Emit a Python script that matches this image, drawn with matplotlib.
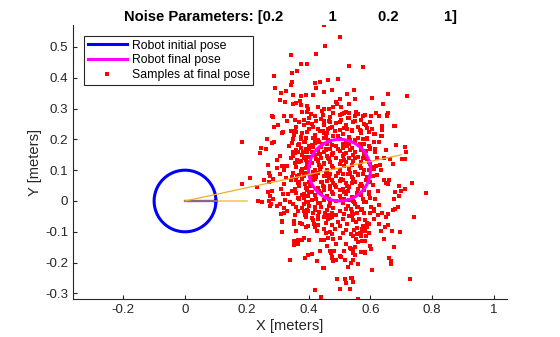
import numpy as np
import matplotlib
matplotlib.use('Agg')
import matplotlib.pyplot as plt
from matplotlib.lines import Line2D

plt.rcParams['font.family'] = ['Liberation Sans', 'DejaVu Sans']
plt.rcParams['axes.unicode_minus'] = False

# poses (x, y, radius)
init_pose = (0.0, 0.0)
final_pose = (0.5, 0.1)
robot_radius = 0.1
ray_end = (0.7, 0.15)
heading_len = 0.1
odom_len = 0.2

noise_params = [0.2, 1, 0.2, 1]

# samples, grouped by region
samples_top = [
    (0.45, 0.57), (0.454, 0.502), (0.425, 0.476), (0.344, 0.473), (0.376, 0.444),
    (0.396, 0.444), (0.363, 0.421), (0.347, 0.415), (0.289, 0.405), (0.464, 0.393),
    (0.347, 0.385), (0.344, 0.376), (0.422, 0.382), (0.438, 0.385), (0.425, 0.366),
    (0.292, 0.366), (0.328, 0.356), (0.312, 0.35), (0.451, 0.353), (0.477, 0.359),
    (0.35, 0.343), (0.376, 0.34), (0.393, 0.343), (0.415, 0.343), (0.308, 0.327),
    (0.325, 0.32), (0.373, 0.324), (0.36, 0.317), (0.35, 0.314), (0.376, 0.311),
    (0.396, 0.307), (0.431, 0.304), (0.399, 0.298), (0.451, 0.298), (0.467, 0.298),
    (0.48, 0.304), (0.38, 0.288), (0.396, 0.288), (0.409, 0.282), (0.444, 0.291),
    (0.283, 0.275), (0.321, 0.277), (0.344, 0.277), (0.422, 0.277), (0.448, 0.279),
    (0.48, 0.285),
    (0.5, 0.531), (0.532, 0.437), (0.577, 0.434), (0.496, 0.395), (0.548, 0.359),
    (0.525, 0.346), (0.658, 0.346), (0.719, 0.34), (0.606, 0.333), (0.503, 0.33),
    (0.551, 0.33), (0.488, 0.32), (0.493, 0.314), (0.532, 0.314), (0.642, 0.314),
    (0.506, 0.304), (0.522, 0.288), (0.554, 0.288), (0.532, 0.285), (0.561, 0.282),
    (0.619, 0.285), (0.658, 0.285), (0.5, 0.278), (0.509, 0.282), (0.515, 0.284),
    (0.551, 0.277), (0.577, 0.277), (0.584, 0.279), (0.603, 0.275), (0.629, 0.277),
    (0.654, 0.277), (0.655, 0.279),
]

samples_left = [
    (0.185, 0.19), (0.247, 0.171), (0.244, 0.155), (0.266, 0.2), (0.283, 0.187),
    (0.289, 0.19), (0.263, 0.168), (0.289, 0.239), (0.302, 0.246), (0.315, 0.22),
    (0.318, 0.225), (0.331, 0.259), (0.357, 0.262), (0.211, 0.074), (0.185, 0.054),
    (0.234, 0.044), (0.257, 0.067), (0.273, 0.061), (0.237, -0.001), (0.25, -0.004),
    (0.273, -0.001), (0.279, -0.011), (0.286, 0.006), (0.276, 0.015), (0.27, 0.028),
    (0.283, 0.034), (0.273, 0.09), (0.276, 0.08), (0.286, 0.07), (0.299, 0.132),
    (0.308, 0.145), (0.299, 0.106), (0.315, 0.112), (0.325, 0.112), (0.331, 0.112),
    (0.308, 0.086), (0.321, 0.099), (0.328, 0.074), (0.344, 0.067), (0.321, 0.054),
    (0.312, 0.038), (0.318, 0.022), (0.334, 0.022), (0.347, 0.034), (0.325, 0.002),
    (0.341, -0.004), (0.35, -0.011), (0.308, -0.011), (0.299, -0.017), (0.321, -0.024),
    (0.27, 0.116), (0.284, 0.272), (0.276, -0.017), (0.315, -0.069), (0.321, -0.04),
    (0.344, 0.227), (0.354, 0.214), (0.36, 0.224), (0.376, 0.201), (0.389, 0.191),
    (0.367, 0.182), (0.338, 0.179), (0.351, 0.159), (0.367, 0.159), (0.383, 0.159),
    (0.344, 0.139), (0.363, 0.133), (0.376, 0.13), (0.389, 0.143), (0.402, 0.169),
    (0.412, 0.182), (0.422, 0.201), (0.438, 0.227), (0.451, 0.221), (0.464, 0.233),
    (0.477, 0.24), (0.415, 0.24), (0.399, 0.253), (0.386, 0.246), (0.425, 0.259),
    (0.451, 0.259), (0.47, 0.256), (0.405, 0.126), (0.392, 0.107), (0.38, 0.094),
    (0.363, 0.081), (0.37, 0.061), (0.389, 0.055), (0.405, 0.048), (0.415, 0.068),
    (0.425, 0.087), (0.438, 0.103), (0.451, 0.12), (0.464, 0.139), (0.477, 0.152),
    (0.457, 0.165), (0.438, 0.152), (0.444, 0.185), (0.464, 0.198), (0.431, 0.133),
    (0.412, 0.029), (0.431, 0.042), (0.451, 0.035), (0.47, 0.048), (0.477, 0.068),
    (0.457, 0.081), (0.444, 0.061), (0.386, 0.022), (0.367, 0.009), (0.399, 0.016),
    (0.386, -0.011), (0.399, -0.004), (0.422, -0.021), (0.438, -0.008), (0.467, -0.015),
]

samples_right = [
    (0.677, 0.243), (0.638, 0.243), (0.638, 0.23), (0.681, 0.243), (0.638, 0.211),
    (0.684, 0.181), (0.713, 0.174), (0.716, 0.158), (0.651, 0.165), (0.664, 0.135),
    (0.703, 0.135), (0.713, 0.135), (0.674, 0.119), (0.736, 0.057), (0.781, 0.025),
    (0.693, 0.048), (0.713, 0.038), (0.7, 0.033), (0.681, 0.028), (0.693, 0.015),
    (0.677, 0.006), (0.69, -0.02), (0.681, -0.027), (0.645, 0.067), (0.651, 0.057),
    (0.66, 0.068), (0.658, 0.054),
    (0.622, 0.083), (0.635, 0.099), (0.619, 0.112), (0.632, 0.116), (0.645, 0.139),
    (0.616, 0.168), (0.616, 0.158), (0.6, 0.172), (0.629, 0.191), (0.635, 0.211),
    (0.616, 0.217), (0.597, 0.224), (0.568, 0.227), (0.589, 0.204), (0.58, 0.25),
    (0.551, 0.259), (0.529, 0.269), (0.5, 0.256), (0.513, 0.236), (0.539, 0.23),
    (0.551, 0.198), (0.532, 0.185), (0.51, 0.172), (0.568, 0.165), (0.584, 0.146),
    (0.551, 0.139), (0.516, 0.133), (0.539, 0.117), (0.571, 0.107), (0.597, 0.101),
    (0.607, 0.081), (0.587, 0.068), (0.561, 0.087), (0.526, 0.087), (0.5, 0.101),
    (0.51, 0.068), (0.542, 0.058), (0.574, 0.048), (0.607, 0.051), (0.626, 0.031),
    (0.597, 0.022), (0.568, 0.022), (0.529, 0.031), (0.5, 0.035), (0.516, 0.006),
    (0.548, -0.004), (0.587, -0.004), (0.616, 0.006), (0.629, -0.014), (0.603, -0.021),
    (0.561, -0.021), (0.526, -0.017),
]

samples_core = [
    (0.40, 0.27), (0.44, 0.265), (0.47, 0.272), (0.53, 0.268), (0.57, 0.262), (0.60, 0.255),
    (0.37, 0.255), (0.41, 0.25), (0.45, 0.248), (0.49, 0.252), (0.52, 0.245), (0.56, 0.24),
    (0.59, 0.236), (0.36, 0.24), (0.40, 0.235), (0.43, 0.232), (0.47, 0.238), (0.50, 0.23),
    (0.54, 0.226), (0.57, 0.22), (0.61, 0.218), (0.38, 0.22), (0.42, 0.215), (0.46, 0.22),
    (0.48, 0.212), (0.51, 0.218), (0.53, 0.208), (0.56, 0.205), (0.59, 0.2), (0.35, 0.2),
    (0.39, 0.205), (0.43, 0.198), (0.45, 0.205), (0.47, 0.195), (0.50, 0.2), (0.52, 0.192),
    (0.55, 0.19), (0.58, 0.186), (0.61, 0.19), (0.37, 0.185), (0.40, 0.18), (0.42, 0.188),
    (0.44, 0.176), (0.46, 0.184), (0.49, 0.178), (0.51, 0.185), (0.54, 0.172), (0.57, 0.175),
    (0.60, 0.168), (0.36, 0.165), (0.39, 0.168), (0.41, 0.16), (0.43, 0.166), (0.45, 0.158),
    (0.47, 0.168), (0.48, 0.155), (0.50, 0.162), (0.52, 0.155), (0.55, 0.158), (0.58, 0.152),
    (0.35, 0.145), (0.38, 0.15), (0.40, 0.142), (0.42, 0.148), (0.44, 0.14), (0.46, 0.146),
    (0.49, 0.138), (0.51, 0.145), (0.53, 0.14), (0.56, 0.142), (0.59, 0.136), (0.62, 0.14),
    (0.37, 0.128), (0.39, 0.132), (0.41, 0.122), (0.43, 0.13), (0.45, 0.122), (0.47, 0.128),
    (0.50, 0.12), (0.52, 0.128), (0.54, 0.118), (0.57, 0.125), (0.60, 0.12), (0.36, 0.11),
    (0.38, 0.105), (0.40, 0.112), (0.42, 0.102), (0.44, 0.11), (0.46, 0.1), (0.48, 0.108),
    (0.50, 0.098), (0.53, 0.105), (0.55, 0.095), (0.58, 0.1), (0.61, 0.105), (0.35, 0.09),
    (0.37, 0.085), (0.39, 0.092), (0.41, 0.082), (0.43, 0.09), (0.45, 0.08), (0.47, 0.088),
    (0.49, 0.08), (0.51, 0.086), (0.54, 0.078), (0.56, 0.085), (0.59, 0.078), (0.36, 0.068),
    (0.38, 0.072), (0.40, 0.062), (0.42, 0.07), (0.44, 0.06), (0.46, 0.066), (0.48, 0.058),
    (0.50, 0.065), (0.52, 0.058), (0.55, 0.062), (0.57, 0.055), (0.60, 0.06), (0.37, 0.048),
    (0.39, 0.042), (0.41, 0.05), (0.43, 0.04), (0.45, 0.046), (0.47, 0.038), (0.49, 0.045),
    (0.51, 0.038), (0.53, 0.044), (0.56, 0.04), (0.58, 0.035), (0.36, 0.025), (0.38, 0.02),
    (0.40, 0.03), (0.42, 0.018), (0.44, 0.026), (0.46, 0.015), (0.48, 0.024), (0.50, 0.016),
    (0.52, 0.022), (0.54, 0.012), (0.57, 0.018), (0.60, 0.01), (0.37, 0.005), (0.39, -0.002),
    (0.41, 0.004), (0.43, -0.005), (0.45, 0.002), (0.47, -0.008), (0.49, 0.0), (0.51, -0.006),
    (0.53, 0.002), (0.55, -0.01), (0.58, -0.004), (0.36, -0.018), (0.38, -0.024), (0.40, -0.015),
    (0.42, -0.028), (0.44, -0.02), (0.46, -0.03), (0.48, -0.022), (0.50, -0.032), (0.52, -0.025),
    (0.54, -0.035), (0.57, -0.028), (0.60, -0.038), (0.39, -0.045), (0.43, -0.05), (0.47, -0.055),
    (0.49, -0.045), (0.51, -0.06), (0.53, -0.05),
]

# second, staggered pass over the dense middle of the cloud
samples_core2 = [
    (0.385, 0.262), (0.425, 0.258), (0.465, 0.26), (0.505, 0.262), (0.545, 0.255), (0.585, 0.248),
    (0.355, 0.228), (0.395, 0.225), (0.445, 0.228), (0.485, 0.226), (0.525, 0.232), (0.565, 0.23),
    (0.605, 0.232), (0.375, 0.208), (0.415, 0.205), (0.455, 0.212), (0.495, 0.21), (0.535, 0.198),
    (0.575, 0.2), (0.345, 0.188), (0.385, 0.192), (0.435, 0.19), (0.475, 0.182), (0.525, 0.18),
    (0.565, 0.185), (0.595, 0.18), (0.375, 0.172), (0.415, 0.175), (0.455, 0.17), (0.495, 0.168),
    (0.535, 0.165), (0.585, 0.162), (0.355, 0.155), (0.395, 0.158), (0.435, 0.152), (0.475, 0.15),
    (0.515, 0.152), (0.545, 0.148), (0.575, 0.14), (0.385, 0.138), (0.425, 0.135), (0.465, 0.136),
    (0.505, 0.13), (0.545, 0.13), (0.595, 0.128), (0.355, 0.122), (0.395, 0.12), (0.435, 0.118),
    (0.475, 0.115), (0.515, 0.112), (0.565, 0.112), (0.605, 0.11), (0.375, 0.098), (0.415, 0.095),
    (0.455, 0.092), (0.495, 0.09), (0.535, 0.092), (0.575, 0.088), (0.345, 0.078), (0.385, 0.08),
    (0.425, 0.078), (0.465, 0.075), (0.505, 0.072), (0.545, 0.07), (0.585, 0.068), (0.365, 0.058),
    (0.405, 0.055), (0.445, 0.05), (0.485, 0.052), (0.525, 0.048), (0.565, 0.05), (0.355, 0.038),
    (0.395, 0.035), (0.435, 0.032), (0.475, 0.028), (0.515, 0.03), (0.555, 0.026), (0.595, 0.03),
    (0.385, 0.01), (0.425, 0.008), (0.465, 0.006), (0.505, 0.005), (0.545, 0.0), (0.575, 0.005),
    (0.395, -0.03), (0.435, -0.035), (0.475, -0.04), (0.515, -0.042), (0.555, -0.018),
    (0.415, -0.062), (0.455, -0.07), (0.495, -0.068), (0.525, -0.075), (0.485, -0.09),
]

samples_bottom = [
    (0.312, -0.043), (0.315, -0.066), (0.315, -0.1), (0.357, -0.046), (0.354, -0.066),
    (0.354, -0.075), (0.331, -0.033), (0.367, -0.033), (0.36, -0.097), (0.354, -0.131),
    (0.354, -0.144), (0.367, -0.14), (0.341, -0.193), (0.386, -0.121), (0.402, -0.128),
    (0.389, -0.186), (0.412, -0.173), (0.428, -0.196), (0.438, -0.163), (0.451, -0.219),
    (0.422, -0.29), (0.441, -0.313), (0.386, -0.033), (0.389, -0.046), (0.393, -0.052),
    (0.373, -0.072), (0.38, -0.075), (0.393, -0.085), (0.399, -0.082), (0.415, -0.04),
    (0.412, -0.055), (0.431, -0.059), (0.418, -0.075), (0.431, -0.078), (0.428, -0.098),
    (0.457, -0.104), (0.477, -0.108), (0.48, -0.124), (0.464, -0.12), (0.451, -0.127),
    (0.441, -0.127), (0.477, -0.163), (0.474, -0.17), (0.477, -0.186), (0.48, -0.196),
    (0.454, -0.04), (0.464, -0.046), (0.477, -0.052), (0.451, -0.052), (0.477, -0.078),
    (0.464, -0.059), (0.399, -0.033), (0.367, -0.128), (0.38, -0.128), (0.398, -0.176),
    (0.742, -0.053), (0.697, -0.102), (0.677, -0.15), (0.645, -0.124), (0.671, -0.098),
    (0.658, -0.079), (0.646, -0.085), (0.629, -0.075), (0.635, -0.098), (0.651, -0.053),
    (0.658, -0.043), (0.638, -0.04), (0.626, -0.046), (0.61, -0.059), (0.613, -0.033),
    (0.674, -0.029), (0.661, -0.186), (0.667, -0.196), (0.603, -0.157), (0.6, -0.147),
    (0.606, -0.225), (0.729, -0.254), (0.584, -0.166), (0.581, -0.17), (0.561, -0.205),
    (0.55, -0.176), (0.545, -0.17), (0.545, -0.19), (0.536, -0.2), (0.536, -0.157),
    (0.535, -0.153), (0.55, -0.15), (0.561, -0.134), (0.552, -0.124), (0.571, -0.108),
    (0.545, -0.114), (0.536, -0.108), (0.574, -0.13), (0.584, -0.13), (0.597, -0.105),
    (0.585, -0.114), (0.581, -0.098), (0.571, -0.114), (0.565, -0.105), (0.557, -0.108),
    (0.558, -0.088), (0.546, -0.094), (0.536, -0.25), (0.542, -0.25), (0.545, -0.264),
    (0.535, -0.285), (0.561, -0.318), (0.59, -0.07), (0.584, -0.062), (0.597, -0.075),
    (0.59, -0.085), (0.58, -0.095), (0.573, -0.092), (0.575, -0.08), (0.562, -0.057),
    (0.556, -0.04), (0.545, -0.042), (0.54, -0.05), (0.536, -0.026), (0.543, -0.063),
    (0.552, -0.068), (0.572, -0.026), (0.58, -0.04), (0.613, -0.027),
    (0.503, -0.287), (0.493, -0.254), (0.519, -0.254), (0.522, -0.267), (0.448, -0.219),
    (0.528, -0.215), (0.668, -0.206), (0.473, -0.17), (0.477, -0.183), (0.5, -0.18),
    (0.49, -0.193), (0.505, -0.182), (0.518, -0.19), (0.47, -0.161), (0.482, -0.163),
    (0.515, -0.161), (0.545, -0.163), (0.57, -0.166),
    (0.42, -0.085), (0.45, -0.09), (0.47, -0.1), (0.50, -0.08), (0.52, -0.095),
    (0.50, -0.12), (0.52, -0.14), (0.49, -0.14), (0.51, -0.105), (0.46, -0.145),
]

all_samples = np.array(samples_top + samples_left + samples_right + samples_core
                       + samples_core2 + samples_bottom)

fig, ax = plt.subplots(figsize=(5.6, 3.37), dpi=100)
fig.subplots_adjust(left=73 / 560, right=507 / 560, bottom=38 / 337, top=312 / 337)

ax.plot(all_samples[:, 0], all_samples[:, 1], 's', color='#ff0000', ms=2.6, mew=0,
        linestyle='none', zorder=2)

t = np.linspace(0, 2 * np.pi, 200)
ax.plot(init_pose[0] + robot_radius * np.cos(t), init_pose[1] + robot_radius * np.sin(t),
        color='#0000ff', lw=2.2, zorder=3)
ax.plot([init_pose[0], init_pose[0] + heading_len], [init_pose[1], init_pose[1]],
        color='#0000ff', lw=1.6, zorder=3)
ax.plot(final_pose[0] + robot_radius * np.cos(t), final_pose[1] + robot_radius * np.sin(t),
        color='#ff00ff', lw=2.2, zorder=3)
ax.plot([init_pose[0], init_pose[0] + odom_len], [init_pose[1], init_pose[1]],
        color='#EDB120', lw=1.2, alpha=0.7, zorder=4)
ax.plot([init_pose[0], ray_end[0]], [init_pose[1], ray_end[1]],
        color='#EDB120', lw=0.9, zorder=4)

ax.set_xlim(-0.3625, 1.042)
ax.set_ylim(-0.318, 0.571)
ax.set_xticks(np.arange(-0.2, 1.01, 0.2))
ax.set_yticks(np.arange(-0.3, 0.51, 0.1))
ax.xaxis.set_major_formatter(matplotlib.ticker.FuncFormatter(lambda v, p: '%g' % round(v, 2)))
ax.yaxis.set_major_formatter(matplotlib.ticker.FuncFormatter(lambda v, p: '%g' % round(v, 2)))

for s in ['top', 'right']:
    ax.spines[s].set_visible(False)
for s in ['left', 'bottom']:
    ax.spines[s].set_color('#262626')
    ax.spines[s].set_linewidth(0.8)
ax.tick_params(direction='in', length=3, width=0.8, color='#262626', labelcolor='#262626',
               labelsize=9.6)

ax.set_xlabel('X [meters]', fontsize=10.6, color='#262626', labelpad=2)
ax.set_ylabel('Y [meters]', fontsize=10.6, color='#262626', labelpad=2)

title = 'Noise Parameters: [' + (' ' * 11).join(['0.2', '1']) + ' ' * 10 + \
    (' ' * 11).join(['0.2', '1']) + ']'
ax.set_title(title, fontsize=10.6, fontweight='bold', color='#000000', pad=3)

handles = [
    Line2D([], [], color='#0000ff', lw=2.2),
    Line2D([], [], color='#ff00ff', lw=2.2),
    Line2D([], [], color='#ff0000', marker='s', ms=2.6, mew=0, linestyle='none'),
]
leg = ax.legend(handles, ['Robot initial pose', 'Robot final pose', 'Samples at final pose'],
                loc='upper left', bbox_to_anchor=(11 / 434, 1 - 11 / 274), borderaxespad=0,
                fontsize=8.8, frameon=True, fancybox=False, framealpha=1,
                edgecolor='#262626', handlelength=3.2, handletextpad=0.4,
                labelspacing=0.22, borderpad=0.3)
leg.get_frame().set_linewidth(0.8)

fig.savefig('out.png', dpi=100)
